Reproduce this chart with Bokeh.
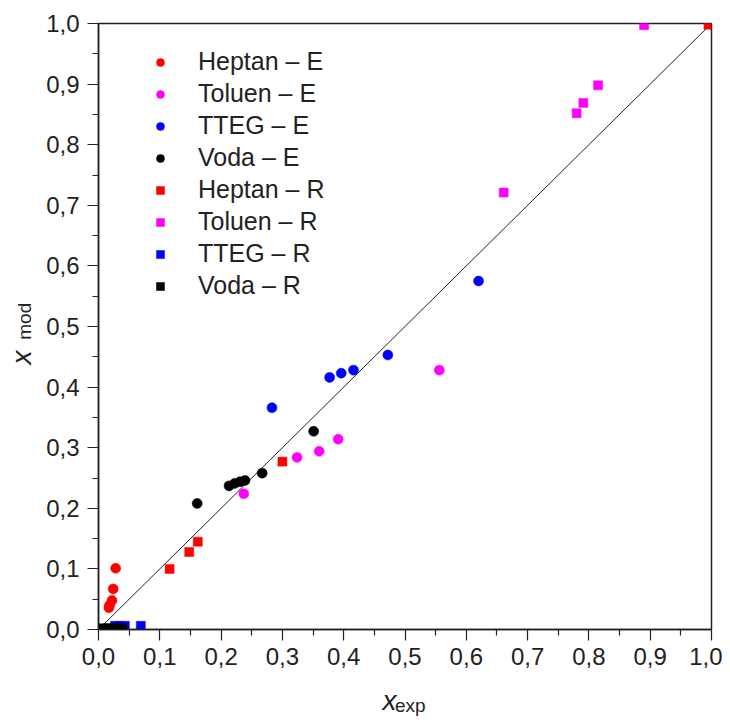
from bokeh.plotting import figure
from bokeh.models import (Range1d, FixedTicker, Legend, LegendItem, LinearAxis)
from bokeh.embed import file_html
from bokeh.resources import INLINE

# ---- data ----
heptan_e_x = [0.017, 0.018, 0.022, 0.024, 0.028]
heptan_e_y = [0.036, 0.040, 0.048, 0.067, 0.101]
toluen_e_x = [0.237, 0.324, 0.360, 0.391, 0.556]
toluen_e_y = [0.224, 0.284, 0.294, 0.314, 0.428]
tteg_e_x = [0.283, 0.377, 0.396, 0.416, 0.472, 0.620]
tteg_e_y = [0.366, 0.416, 0.423, 0.428, 0.453, 0.575]
voda_e_x = [0.161, 0.213, 0.222, 0.231, 0.239, 0.267, 0.351]
voda_e_y = [0.208, 0.237, 0.241, 0.244, 0.246, 0.258, 0.327]
heptan_r_x = [0.116, 0.148, 0.162, 0.300, 0.995]
heptan_r_y = [0.100, 0.128, 0.145, 0.277, 0.998]
toluen_r_x = [0.661, 0.780, 0.791, 0.815, 0.890]
toluen_r_y = [0.721, 0.852, 0.869, 0.898, 0.997]
tteg_r_x = [0.027, 0.035, 0.043, 0.069]
tteg_r_y = [0.006, 0.006, 0.006, 0.006]
voda_r_x = [0.007, 0.015, 0.023, 0.031, 0.039]
voda_r_y = [0.002, 0.002, 0.002, 0.002, 0.002]

diag_x = [0.0, 1.0]
diag_y = [0.0, 1.0]

tick_values = [0.0, 0.1, 0.2, 0.3, 0.4, 0.5, 0.6, 0.7, 0.8, 0.9, 1.0]
tick_labels = ["0,0", "0,1", "0,2", "0,3", "0,4", "0,5", "0,6", "0,7", "0,8", "0,9", "1,0"]
minor_values = [0.05, 0.15, 0.25, 0.35, 0.45, 0.55, 0.65, 0.75, 0.85, 0.95]

x_title = "x"
x_title_sub = "exp"
y_title = "x"
y_title_sub = "mod"

series = [
    ("Heptan – E", heptan_e_x, heptan_e_y, "#FF0000", "circle"),
    ("Toluen – E", toluen_e_x, toluen_e_y, "#FF00FF", "circle"),
    ("TTEG – E", tteg_e_x, tteg_e_y, "#0000FF", "circle"),
    ("Voda – E", voda_e_x, voda_e_y, "#000000", "circle"),
    ("Heptan – R", heptan_r_x, heptan_r_y, "#FF0000", "square"),
    ("Toluen – R", toluen_r_x, toluen_r_y, "#FF00FF", "square"),
    ("TTEG – R", tteg_r_x, tteg_r_y, "#0000FF", "square"),
    ("Voda – R", voda_r_x, voda_r_y, "#000000", "square"),
]

FONT = "Liberation Sans"
INK = "#222222"
NB = "\u00a0"

p = figure(frame_width=613, frame_height=606,
           min_border_left=98, min_border_right=11, min_border_top=23, min_border_bottom=85,
           x_range=Range1d(0, 1), y_range=Range1d(0, 1),
           output_backend="svg", toolbar_location=None,
           background_fill_color="white", border_fill_color="white")
p.grid.visible = False
p.outline_line_color = INK
p.outline_line_width = 1.5

for ax in (p.xaxis[0], p.yaxis[0]):
    ax.ticker = FixedTicker(ticks=tick_values, minor_ticks=minor_values)
    ax.major_label_overrides = {v: s for v, s in zip(tick_values, tick_labels)}
    ax.axis_line_color = INK
    ax.axis_line_width = 1.5
    ax.major_tick_line_color = INK
    ax.minor_tick_line_color = INK
    ax.major_tick_line_width = 1.2
    ax.minor_tick_line_width = 1.2
    ax.major_tick_in = 0
    ax.major_tick_out = 11
    ax.minor_tick_in = 0
    ax.minor_tick_out = 6
    ax.major_label_text_font = FONT
    ax.major_label_text_font_size = "24px"
    ax.major_label_text_color = INK
p.xaxis[0].major_label_standoff = 7
p.yaxis[0].major_label_standoff = 8


def title_axis(text, size, italic, standoff):
    return LinearAxis(ticker=FixedTicker(ticks=[], minor_ticks=[]),
                      axis_line_color=None, major_tick_line_color=None, minor_tick_line_color=None,
                      major_tick_in=0, major_tick_out=0, minor_tick_in=0, minor_tick_out=0,
                      major_label_standoff=0, major_label_text_font_size="1px",
                      axis_label=text, axis_label_text_font=FONT,
                      axis_label_text_font_size=size,
                      axis_label_text_font_style="italic" if italic else "normal",
                      axis_label_text_color=INK, axis_label_standoff=standoff)


# x-axis title: italic x followed by subscript "exp" (non-breaking spaces offset the centring)
p.add_layout(title_axis(x_title + NB * 4, "28px", True, 17), "below")
p.add_layout(title_axis(NB * 2 + x_title_sub, "19px", False, -24), "below")
# y-axis title: subscript "mod" sits closer to the axis, italic x further out
p.add_layout(title_axis(NB * 2 + y_title_sub, "19px", False, 9), "left")
p.add_layout(title_axis(y_title + NB * 8, "28px", True, -26), "left")

p.line(diag_x, diag_y, line_color=INK, line_width=1)

items = []
for name, xs, ys, col, mk in series:
    sz = 10 if mk == "circle" else 9
    r = p.scatter(xs, ys, marker=mk, size=sz, fill_color=col, line_color=col, line_width=0.5)
    items.append(LegendItem(label=name, renderers=[r]))

legend = Legend(items=items, location="top_left", margin=24, padding=0,
                glyph_width=76, glyph_height=20, label_height=20, label_standoff=0,
                spacing=3, border_line_color=None, background_fill_alpha=0,
                label_text_font=FONT, label_text_font_size="25px", label_text_color=INK)
p.add_layout(legend)

open("out.html", "w").write(file_html(p, INLINE))
